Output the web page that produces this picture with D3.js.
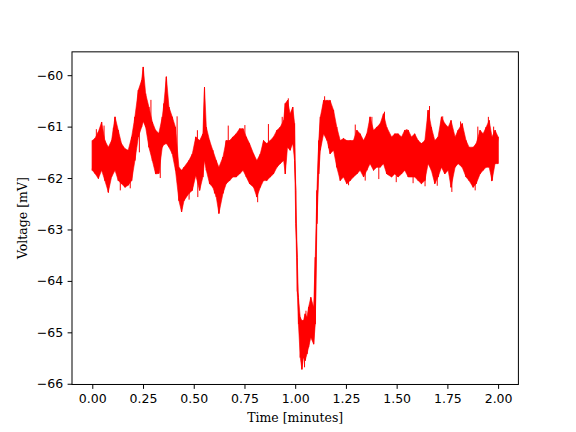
<!DOCTYPE html>
<html lang="en">
    <head>
        <meta charset="utf-8">
        <title>Voltage trace</title>
        <script src="https://d3js.org/d3.v7.min.js"></script>
        <style>
            body { margin: 0; background: white; }
            .tick text { font-family: "DejaVu Sans", sans-serif; font-size: 12.5px; fill: black; }
            .tick line { stroke: black; stroke-width: 1; }
            .axlabel { font-family: "DejaVu Serif", serif; font-size: 12.5px; fill: black; }
        </style>
    </head>
    <body>
        <script type="text/javascript">
            // time in minutes, upper and lower edge of the noisy trace in mV
            var times = [0.000, 0.013, 0.030, 0.046, 0.062, 0.079, 0.095, 0.112, 0.128, 0.144,
                         0.161, 0.177, 0.194, 0.210, 0.227, 0.243, 0.251, 0.263, 0.279, 0.296,
                         0.312, 0.328, 0.345, 0.353, 0.365, 0.378, 0.394, 0.410, 0.427, 0.440,
                         0.452, 0.476, 0.493, 0.510, 0.529, 0.545, 0.553, 0.562, 0.578, 0.594,
                         0.611, 0.624, 0.644, 0.660, 0.677, 0.693, 0.709, 0.726, 0.743, 0.759,
                         0.775, 0.795, 0.811, 0.828, 0.844, 0.860, 0.877, 0.893, 0.910, 0.926,
                         0.943, 0.951, 0.962, 0.975, 0.988, 0.997, 1.003, 1.010, 1.016, 1.025,
                         1.033, 1.041, 1.049, 1.058, 1.066, 1.077, 1.091, 1.099, 1.107, 1.116,
                         1.124, 1.140, 1.157, 1.172, 1.189, 1.205, 1.222, 1.238, 1.254, 1.271,
                         1.287, 1.304, 1.320, 1.337, 1.353, 1.369, 1.386, 1.402, 1.419, 1.435,
                         1.451, 1.475, 1.491, 1.507, 1.524, 1.540, 1.557, 1.573, 1.589, 1.606,
                         1.622, 1.639, 1.655, 1.671, 1.688, 1.704, 1.721, 1.737, 1.754, 1.768,
                         1.788, 1.803, 1.823, 1.842, 1.857, 1.877, 1.892, 1.911, 1.926, 1.941,
                         1.956, 1.970, 1.985, 2.000];

            var upper = [-61.27, -61.23, -61.10, -60.91, -61.27, -61.40, -61.27, -60.81, -61.07, -61.33,
                         -61.43, -61.46, -61.20, -60.81, -60.29, -60.10, -59.84, -60.36, -60.62, -60.91,
                         -61.07, -61.13, -60.81, -60.55, -60.03, -60.62, -60.81, -61.01, -61.79, -61.85,
                         -61.79, -61.66, -61.53, -61.20, -61.27, -61.14, -60.23, -61.01, -61.27, -61.46,
                         -61.66, -61.79, -61.59, -61.27, -61.27, -61.20, -61.14, -61.04, -61.04, -61.20,
                         -61.33, -61.53, -61.66, -61.53, -61.27, -61.33, -61.27, -61.20, -61.07, -61.01,
                         -60.88, -60.55, -60.49, -60.75, -60.62, -60.94, -62.24, -63.54, -64.32, -64.71,
                         -64.77, -64.77, -64.64, -64.71, -64.51, -64.32, -64.51, -63.54, -62.24, -61.27,
                         -60.81, -60.49, -60.49, -60.49, -60.68, -61.01, -61.27, -61.23, -61.27, -61.27,
                         -61.27, -61.07, -61.14, -61.27, -61.14, -60.81, -61.07, -61.01, -60.94, -60.75,
                         -61.01, -61.20, -61.14, -61.14, -61.20, -61.07, -61.07, -61.20, -61.14, -61.27,
                         -61.33, -61.27, -60.68, -61.01, -61.27, -61.20, -60.81, -60.94, -61.01, -60.88,
                         -61.20, -61.07, -60.94, -61.27, -61.40, -61.40, -61.33, -61.07, -61.14, -61.01,
                         -60.88, -61.20, -61.07, -61.20];

            var lower = [-61.85, -61.91, -62.01, -61.85, -62.05, -62.27, -61.98, -61.85, -62.05, -62.11,
                         -62.18, -62.14, -62.05, -61.66, -61.20, -61.01, -60.90, -61.01, -61.40, -61.66,
                         -61.92, -61.91, -61.40, -61.35, -61.33, -61.40, -61.53, -61.85, -62.44, -62.66,
                         -62.44, -62.30, -62.24, -61.95, -62.24, -61.98, -61.66, -61.85, -62.11, -62.18,
                         -62.37, -62.69, -62.30, -62.11, -62.05, -61.98, -61.98, -61.92, -61.85, -61.98,
                         -62.11, -62.18, -62.37, -62.18, -62.05, -62.05, -61.98, -61.92, -61.79, -61.72,
                         -61.66, -61.92, -61.40, -61.46, -61.33, -61.66, -62.88, -64.19, -64.84, -65.49,
                         -65.72, -65.49, -65.55, -65.42, -65.29, -65.10, -65.23, -64.84, -62.89, -61.92,
                         -61.46, -61.14, -61.27, -61.53, -61.46, -61.79, -62.05, -61.98, -62.11, -62.05,
                         -61.98, -61.92, -61.85, -61.98, -61.85, -61.72, -61.85, -61.79, -61.79, -61.72,
                         -61.92, -61.98, -61.92, -61.98, -61.92, -61.85, -61.98, -61.98, -61.98, -62.05,
                         -62.11, -62.05, -61.72, -61.85, -62.11, -61.98, -61.79, -61.92, -61.85, -62.18,
                         -61.79, -61.72, -61.79, -61.98, -62.05, -62.18, -62.11, -61.92, -61.85, -61.79,
                         -61.79, -62.05, -61.72, -61.72];

            // isolated single-sample spikes sticking out of the band
            var spikeTimes = [0.020, 0.058, 0.079, 0.104, 0.138, 0.187, 0.232, 0.289, 0.335, 0.418,
                              0.477, 0.518, 0.520, 0.602, 0.670, 0.752, 0.815, 0.868, 0.936, 0.966,
                              0.985, 1.046, 1.053, 1.145, 1.165, 1.263, 1.296, 1.345, 1.378, 1.412,
                              1.440, 1.498, 1.550, 1.581, 1.640, 1.662, 1.700, 1.727, 1.772, 1.815,
                              1.887, 1.900, 1.952, 1.968, 1.978];
            var spikeValues = [-61.05, -60.98, -62.29, -61.02, -62.24, -62.20, -61.50, -60.48, -62.00, -60.80,
                               -62.42, -61.07, -62.37, -62.30, -60.98, -60.97, -62.47, -60.95, -60.81, -60.45,
                               -60.68, -65.68, -64.58, -60.41, -61.42, -62.14, -60.96, -62.05, -60.81, -62.02,
                               -60.71, -62.08, -61.05, -62.10, -62.16, -60.60, -62.15, -60.80, -62.27, -60.90,
                               -62.24, -61.00, -60.81, -62.06, -61.00];

            var xTicks = [0, 0.25, 0.5, 0.75, 1.0, 1.25, 1.5, 1.75, 2.0];
            var yTicks = [-66, -65, -64, -63, -62, -61, -60];

            var width = 576, height = 432;
            var margin = {left: 72, right: 57.6, top: 51.84, bottom: 47.52};
            var plotW = width - margin.left - margin.right;
            var plotH = height - margin.top - margin.bottom;

            var svg = d3.select("body")
                .append("svg")
                .attr("width", width)
                .attr("height", height);

            var g = svg.append("g")
                .attr("transform", "translate(" + margin.left + "," + margin.top + ")");

            var data = times.map(function (t, i) {
                return {t: t, hi: upper[i], lo: lower[i]};
            });

            // matplotlib-like 5% padding on both axes
            var xMin = d3.min(times), xMax = d3.max(times);
            var yMin = d3.min(lower), yMax = d3.max(upper);
            var xPad = (xMax - xMin) * 0.05, yPad = (yMax - yMin) * 0.05;

            var x = d3.scaleLinear().domain([xMin - xPad, xMax + xPad]).range([0, plotW]);
            var y = d3.scaleLinear().domain([yMin - yPad, yMax + yPad]).range([plotH, 0]);

            var band = d3.area()
                .x(function (d) { return x(d.t); })
                .y0(function (d) { return y(d.lo); })
                .y1(function (d) { return y(d.hi); });

            g.append("path")
                .datum(data)
                .attr("d", band)
                .attr("fill", "red")
                .attr("stroke", "red")
                .attr("stroke-width", 0.6);

            // zigzag between the edges to give the trace its texture
            var zig = [];
            data.forEach(function (d) {
                zig.push([x(d.t), y(d.hi)]);
                zig.push([x(d.t), y(d.lo)]);
            });
            g.append("path")
                .attr("d", d3.line()(zig))
                .attr("fill", "none")
                .attr("stroke", "red")
                .attr("stroke-width", 1);

            // spikes run from the middle of the band out to the read value
            var mid = d3.scaleLinear()
                .domain(times)
                .range(times.map(function (t, i) { return (upper[i] + lower[i]) / 2; }));

            g.selectAll("line.spike")
                .data(spikeTimes)
                .enter()
                .append("line")
                .attr("class", "spike")
                .attr("x1", function (d) { return x(d); })
                .attr("x2", function (d) { return x(d); })
                .attr("y1", function (d) { return y(mid(d)); })
                .attr("y2", function (d, i) { return y(spikeValues[i]); })
                .attr("stroke", "red")
                .attr("stroke-width", 1);

            var xAxis = g.append("g")
                .attr("transform", "translate(0," + plotH + ")")
                .call(d3.axisBottom(x).tickValues(xTicks).tickFormat(d3.format(".2f"))
                    .tickSize(4.4).tickPadding(4.4));
            xAxis.select(".domain").remove();
            xAxis.selectAll("text").attr("dy", "0.76em");

            var yAxis = g.append("g")
                .call(d3.axisLeft(y).tickValues(yTicks).tickFormat(d3.format("d"))
                    .tickSize(4.4).tickPadding(4.4));
            yAxis.select(".domain").remove();

            g.append("rect")
                .attr("width", plotW)
                .attr("height", plotH)
                .attr("fill", "none")
                .attr("stroke", "black")
                .attr("stroke-width", 1);

            svg.append("text")
                .attr("class", "axlabel")
                .attr("x", margin.left + plotW / 2)
                .attr("y", 422)
                .attr("text-anchor", "middle")
                .text("Time [minutes]");

            svg.append("text")
                .attr("class", "axlabel")
                .attr("transform", "translate(27," + (margin.top + plotH / 2) + ") rotate(-90)")
                .attr("text-anchor", "middle")
                .text("Voltage [mV]");
        </script>
    </body>
</html>
